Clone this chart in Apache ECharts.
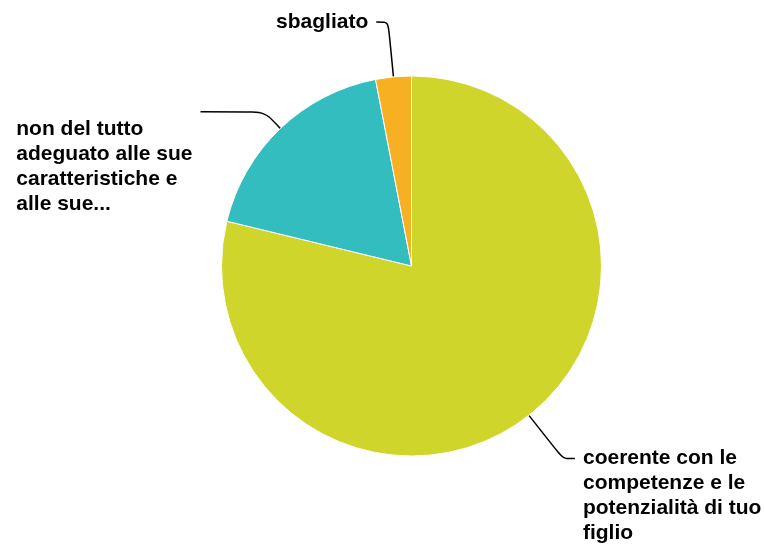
<!DOCTYPE html>
<html>
<head>
<meta charset="utf-8">
<script src="https://cdn.jsdelivr.net/npm/echarts@6/dist/echarts.min.js"></script>
<style>html,body{margin:0;padding:0;background:#fff}#c{width:765px;height:544px}</style>
</head>
<body>
<div id="c"></div>
<script>
const categories = [
  'coerente con le competenze e le potenzialità di tuo figlio',
  'non del tutto adeguato alle sue caratteristiche e alle sue...',
  'sbagliato'
];
const labelTexts = [
  'coerente con le\ncompetenze e le\npotenzialità di tuo\nfiglio',
  'non del tutto\nadeguato alle sue\ncaratteristiche e\nalle sue...',
  'sbagliato'
];
const values = [26, 6, 1];
const colors = ['#cfd52a', '#34bdbf', '#f6b022'];

// per-slice label styling (line lengths, anchor padding)
const labelStyles = [
  { line: { length: 55, length2: 12 }, padding: [75, 0, 0, 0] },
  { line: { length: 23, length2: 64 }, padding: [109, 0, 0, 0] },
  { line: { length: 55, length2: 12 }, padding: [0, 0, 0, 0] }
];

const chart = echarts.init(document.getElementById('c'), null, { renderer: 'canvas' });
chart.setOption({
  animation: false,
  series: [{
    type: 'pie',
    center: [411.5, 266],
    radius: 190,
    startAngle: 90,
    clockwise: true,
    avoidLabelOverlap: false,
    itemStyle: { borderColor: '#fff', borderWidth: 1 },
    label: {
      show: true,
      position: 'outside',
      distanceToLabelLine: 8,
      formatter: function (p) {
        return labelTexts[p.dataIndex].split('\n').map(s => '{a|' + s + '}').join('\n');
      },
      rich: {
        a: {
          align: 'left',
          fontSize: 21,
          fontWeight: 'bold',
          lineHeight: 25,
          color: '#000',
          fontFamily: '"Liberation Sans", Arial, sans-serif'
        }
      }
    },
    labelLine: {
      show: true,
      smooth: 0.25,
      lineStyle: { color: '#000', width: 1.5 }
    },
    data: categories.map((name, i) => ({
      name: name,
      value: values[i],
      itemStyle: { color: colors[i] },
      label: { padding: labelStyles[i].padding },
      labelLine: labelStyles[i].line
    }))
  }]
});
</script>
</body>
</html>
